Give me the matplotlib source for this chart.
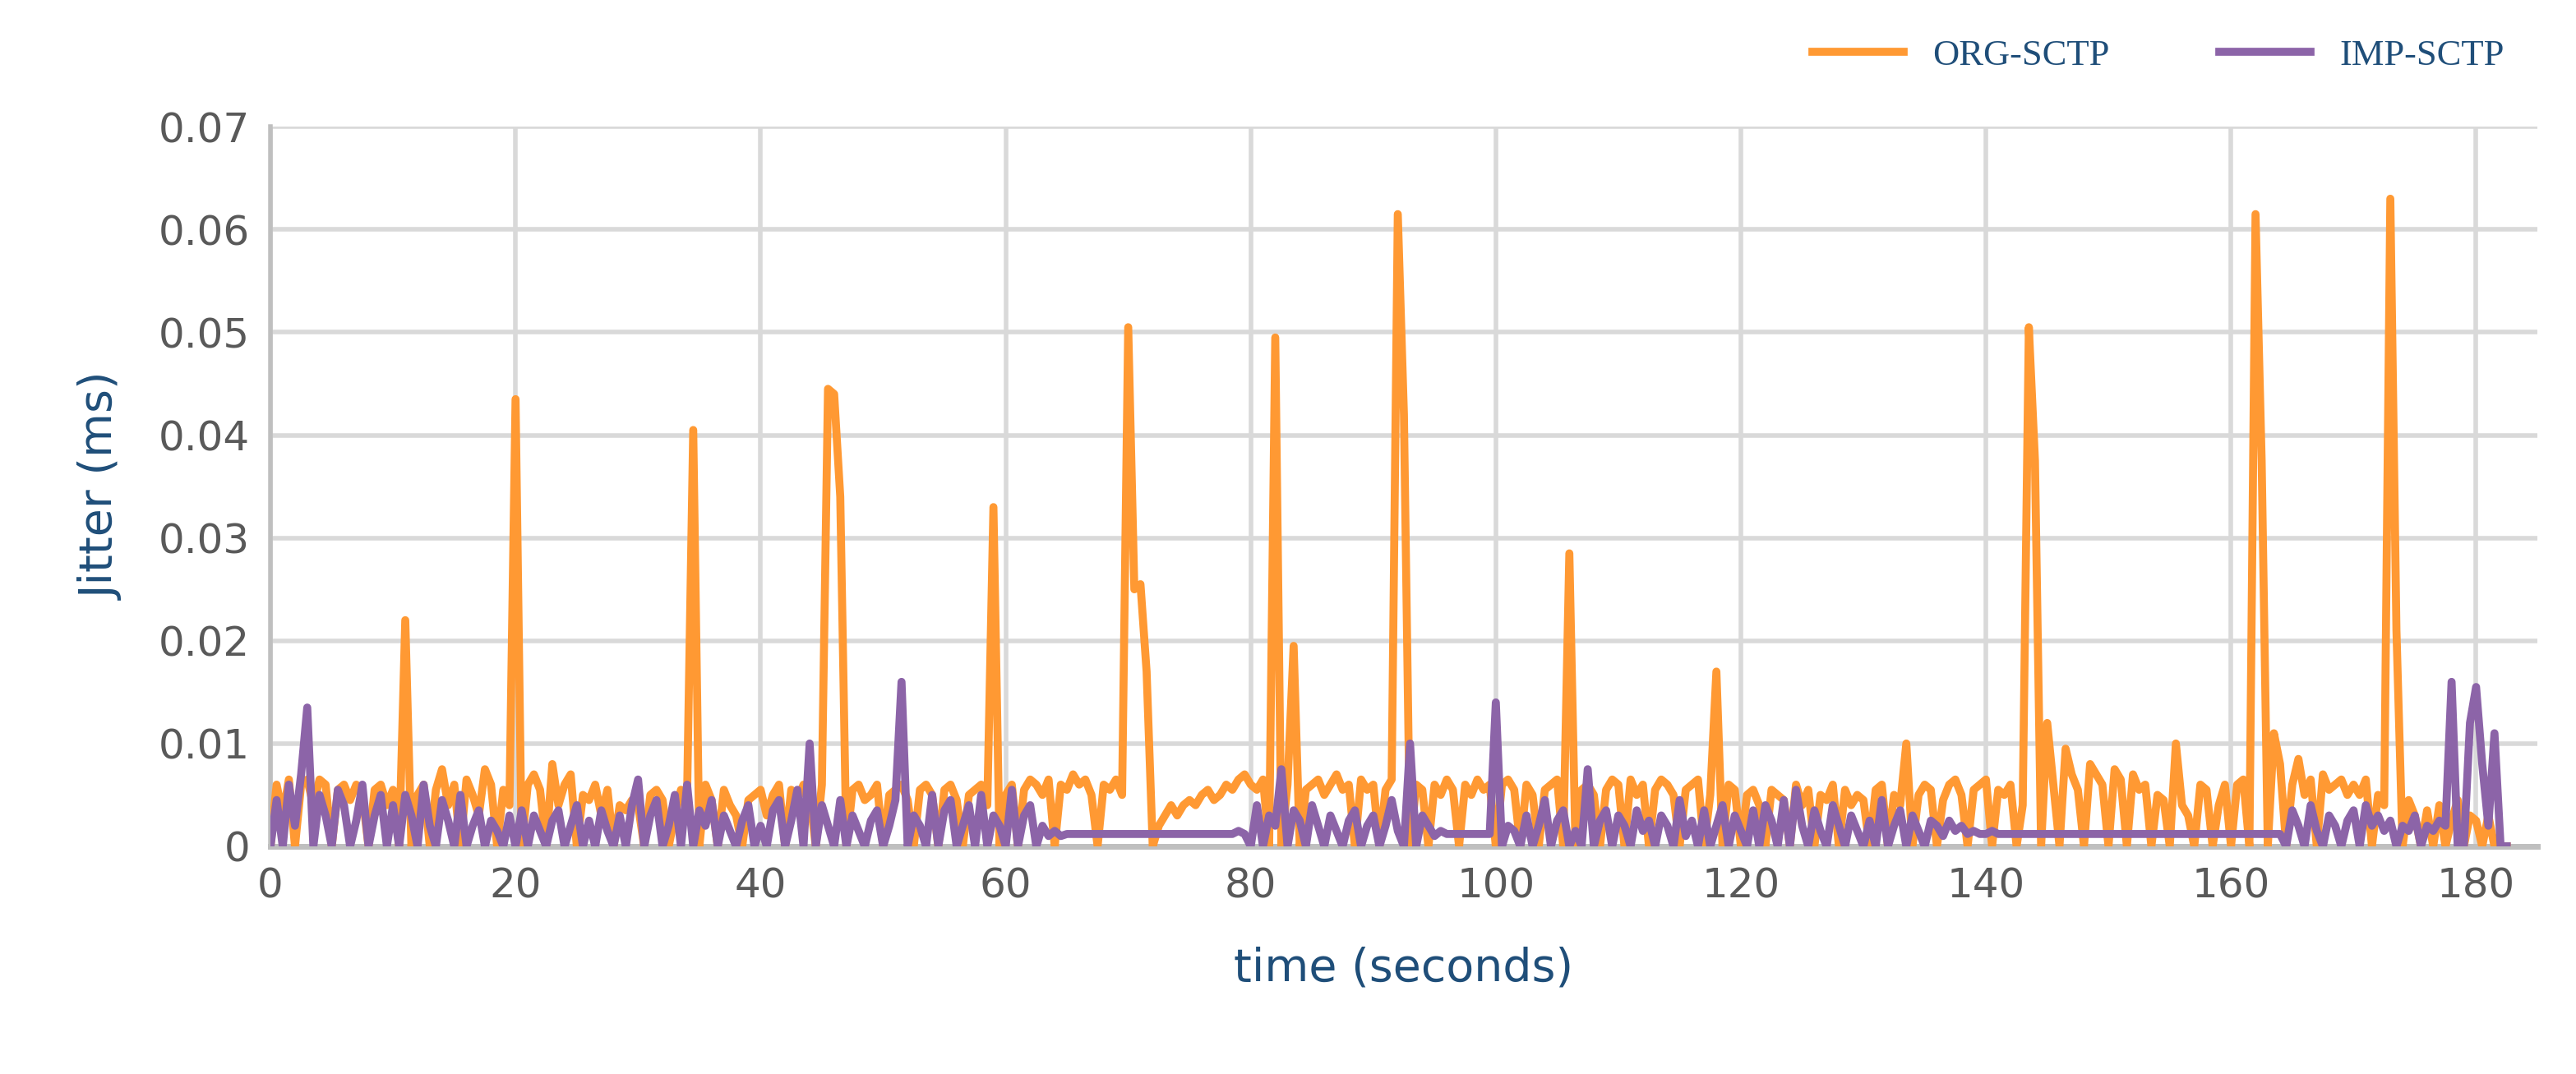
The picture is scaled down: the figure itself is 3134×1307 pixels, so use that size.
import numpy as np
import matplotlib.pyplot as plt

# jitter values in units of 1e-4 ms, sampled every 0.5 s
org_sctp = [
    0, 60, 30, 65, 0, 60, 65, 40, 65, 60, 0, 55, 60, 45, 60, 50, 0, 55, 60, 40,
    55, 0, 220, 0, 50, 60, 0, 55, 75, 40, 60, 0, 65, 50, 30, 75, 60, 0, 55, 40,
    435, 0, 60, 70, 55, 0, 80, 40, 60, 70, 0, 50, 45, 60, 30, 55, 0, 40, 35, 45,
    40, 0, 50, 55, 45, 0, 30, 55, 50, 405, 0, 60, 45, 0, 55, 40, 30, 0, 45, 50,
    55, 30, 50, 60, 0, 55, 45, 60, 50, 0, 60, 445, 440, 340, 0, 55, 60, 45, 50, 60,
    0, 50, 55, 60, 45, 0, 55, 60, 50, 0, 55, 60, 45, 0, 50, 55, 60, 40, 330, 0,
    50, 60, 0, 55, 65, 60, 50, 65, 0, 60, 55, 70, 60, 65, 50, 0, 60, 55, 65, 50,
    505, 250, 255, 170, 0, 20, 30, 40, 30, 40, 45, 40, 50, 55, 45, 50, 60, 55, 65, 70,
    60, 55, 65, 0, 495, 0, 60, 195, 0, 55, 60, 65, 50, 60, 70, 55, 60, 0, 65, 55,
    60, 0, 55, 65, 615, 420, 0, 60, 55, 0, 60, 50, 65, 55, 0, 60, 50, 65, 55, 60,
    0, 60, 65, 55, 0, 60, 50, 0, 55, 60, 65, 0, 285, 0, 55, 60, 50, 0, 55, 65,
    60, 0, 65, 50, 60, 0, 55, 65, 60, 50, 0, 55, 60, 65, 0, 50, 170, 0, 60, 55,
    0, 50, 55, 40, 0, 55, 50, 45, 0, 60, 40, 55, 0, 50, 45, 60, 0, 55, 40, 50,
    45, 0, 55, 60, 0, 50, 40, 100, 0, 50, 60, 55, 0, 45, 60, 65, 50, 0, 55, 60,
    65, 0, 55, 50, 60, 0, 40, 505, 375, 0, 120, 60, 0, 95, 70, 55, 0, 80, 70, 60,
    0, 75, 65, 0, 70, 55, 60, 0, 50, 45, 0, 100, 40, 30, 0, 60, 55, 0, 40, 60,
    0, 60, 65, 0, 615, 375, 0, 110, 80, 0, 60, 85, 50, 65, 0, 70, 55, 60, 65, 50,
    60, 50, 65, 0, 50, 40, 630, 210, 0, 45, 30, 0, 35, 0, 40, 0, 25, 45, 0, 30,
    25, 0, 30, 0, 0, 0,
]

imp_sctp = [
    0, 45, 0, 60, 20, 70, 135, 0, 50, 30, 0, 55, 40, 0, 25, 60, 0, 30, 50, 0,
    40, 0, 50, 30, 0, 60, 20, 0, 45, 25, 0, 50, 0, 20, 35, 0, 25, 15, 0, 30,
    0, 35, 0, 30, 15, 0, 25, 35, 0, 20, 40, 0, 25, 0, 35, 15, 0, 30, 0, 40,
    65, 0, 30, 45, 0, 20, 50, 0, 60, 0, 35, 20, 45, 0, 30, 15, 0, 25, 40, 0,
    20, 0, 35, 45, 0, 25, 55, 0, 100, 0, 40, 20, 0, 45, 0, 30, 15, 0, 25, 35,
    0, 20, 45, 160, 0, 30, 20, 0, 50, 0, 35, 45, 0, 20, 40, 0, 50, 0, 30, 20,
    0, 55, 0, 30, 40, 0, 20, 10, 15, 10, 12, 12, 12, 12, 12, 12, 12, 12, 12, 12,
    12, 12, 12, 12, 12, 12, 12, 12, 12, 12, 12, 12, 12, 12, 12, 12, 12, 12, 15, 12,
    0, 40, 0, 30, 20, 75, 0, 35, 25, 0, 40, 20, 0, 30, 15, 0, 25, 35, 0, 20,
    30, 0, 20, 45, 15, 0, 100, 0, 30, 20, 10, 15, 12, 12, 12, 12, 12, 12, 12, 12,
    140, 0, 20, 15, 0, 30, 0, 20, 45, 0, 25, 35, 0, 15, 0, 75, 0, 25, 35, 0,
    30, 20, 0, 35, 15, 25, 0, 30, 20, 0, 45, 10, 25, 0, 35, 0, 20, 40, 0, 30,
    15, 0, 35, 0, 40, 25, 0, 45, 0, 55, 20, 0, 35, 15, 0, 40, 20, 0, 30, 15,
    0, 25, 0, 45, 0, 20, 35, 0, 30, 15, 0, 25, 20, 10, 25, 15, 20, 12, 15, 12,
    12, 15, 12, 12, 12, 12, 12, 12, 12, 12, 12, 12, 12, 12, 12, 12, 12, 12, 12, 12,
    12, 12, 12, 12, 12, 12, 12, 12, 12, 12, 12, 12, 12, 12, 12, 12, 12, 12, 12, 12,
    12, 12, 12, 12, 12, 12, 12, 12, 12, 0, 35, 20, 0, 40, 15, 0, 30, 20, 0, 25,
    35, 0, 40, 20, 30, 15, 25, 0, 20, 15, 30, 0, 20, 15, 25, 20, 160, 0, 0, 120,
    155, 80, 20, 110, 0, 0,
]

step = 0.5
y_org = np.array(org_sctp) * 1e-4
y_imp = np.array(imp_sctp) * 1e-4
t_org = np.arange(len(y_org)) * step
t_imp = np.arange(len(y_imp)) * step

navy = '#1f4e79'
fig = plt.figure(figsize=(31.34, 13.07), dpi=100)
ax = fig.add_axes([0.105, 0.212, 0.88, 0.67])

ax.plot(t_org, y_org, color='#ff9933', lw=7, label='ORG-SCTP', zorder=3)
ax.plot(t_imp, y_imp, color='#8c64a8', lw=7, label='IMP-SCTP', zorder=4)

ax.set_xlim(0, 185)
ax.set_ylim(0, 0.07)
ax.set_xticks(np.arange(0, 181, 20))
ax.set_yticks(np.arange(0, 0.071, 0.01))
ax.set_yticklabels(['0'] + ['%.2f' % v for v in np.arange(0.01, 0.071, 0.01)])
ax.grid(True, color='#d9d9d9', lw=4)
ax.set_axisbelow(True)
for s in ['top', 'right']:
    ax.spines[s].set_visible(False)
ax.spines['left'].set_color('#bfbfbf')
ax.spines['left'].set_linewidth(4)
ax.spines['bottom'].set_color('#bfbfbf')
ax.spines['bottom'].set_linewidth(5)
ax.tick_params(length=0, labelsize=36, labelcolor='#595959', pad=18)

ax.set_xlabel('time (seconds)', fontsize=40, color=navy, labelpad=35)
ax.set_ylabel('Jitter (ms)', fontsize=40, color=navy, labelpad=30)

leg = ax.legend(loc='lower right', bbox_to_anchor=(1.0, 1.03), ncol=2, frameon=False,
                prop={'family': 'Liberation Serif', 'size': 32}, handlelength=2.5,
                columnspacing=3)
for line in leg.get_lines():
    line.set_linewidth(7)
for txt in leg.get_texts():
    txt.set_color(navy)

fig.savefig('out.png', dpi=100)
